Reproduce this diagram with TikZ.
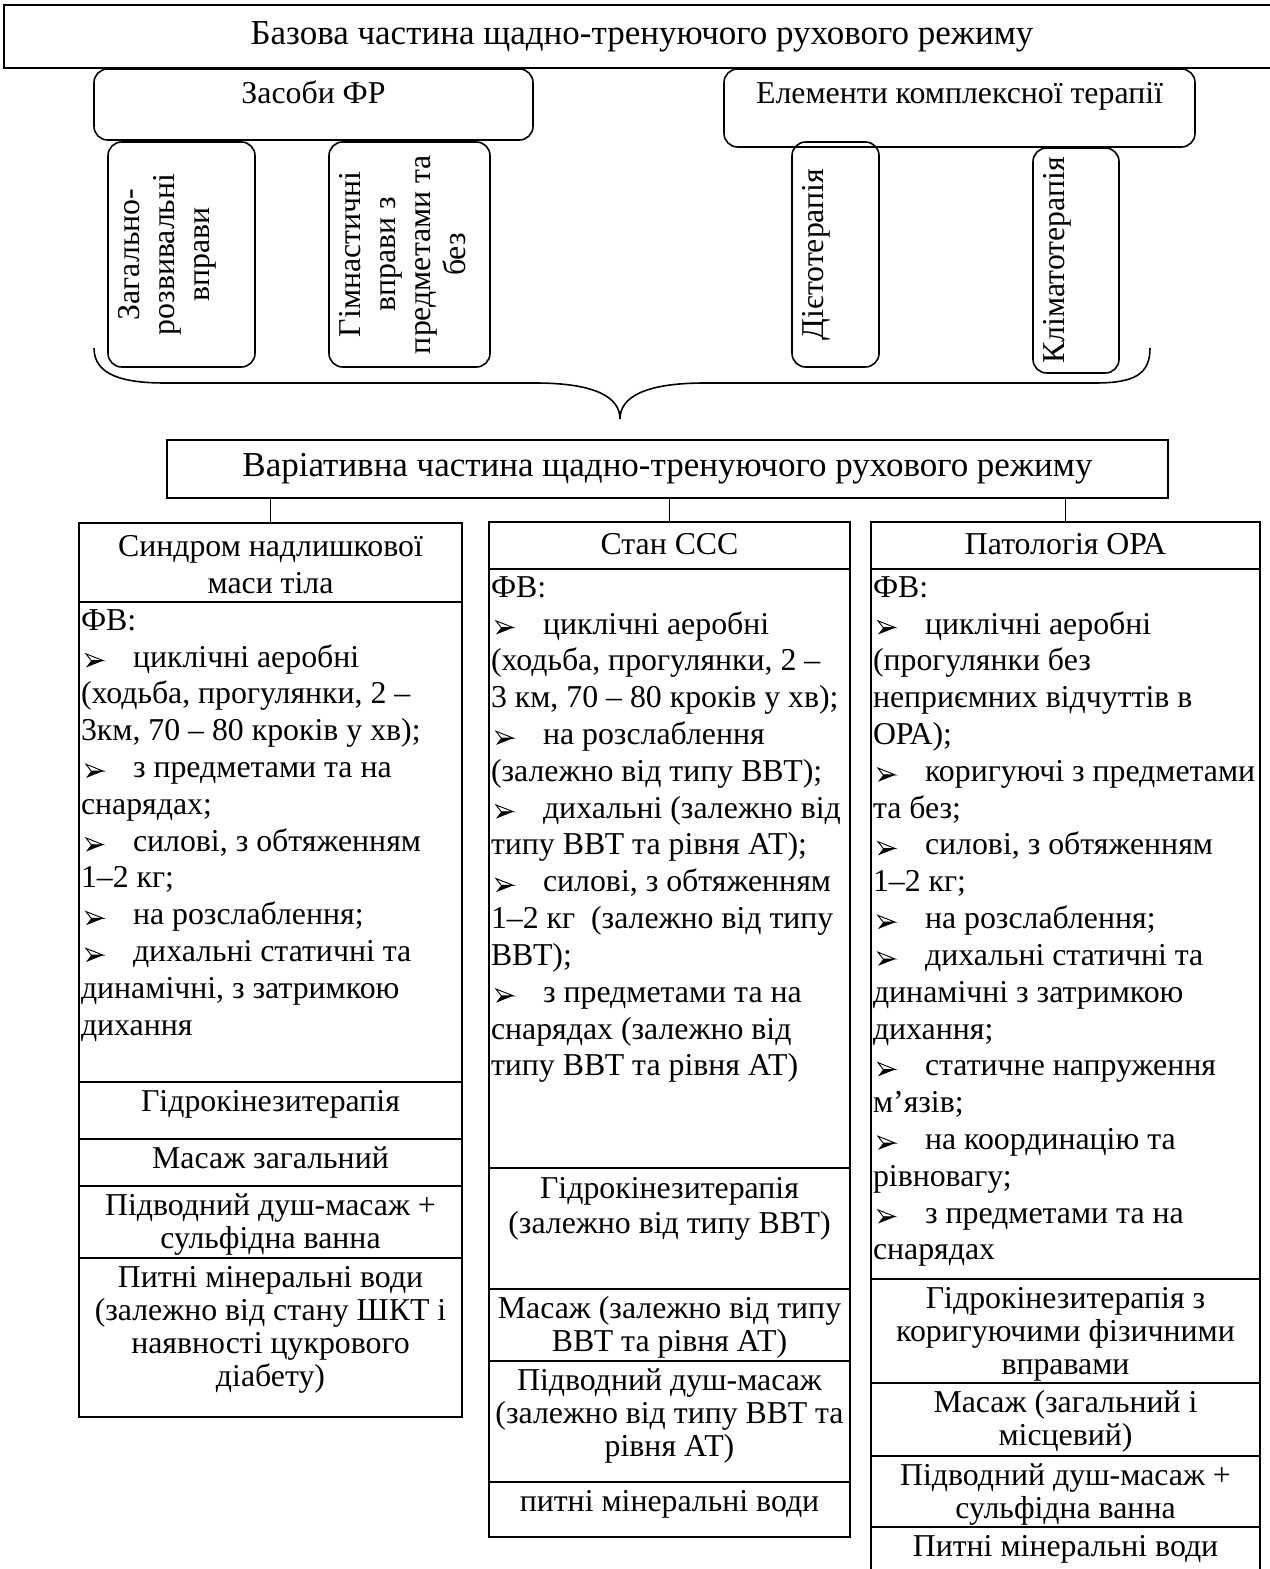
\documentclass[tikz,border=0pt]{standalone}
\usepackage{fontspec}
\setmainfont{Liberation Serif}
\usetikzlibrary{positioning}

\newlength{\Px}
\setlength{\Px}{0.44pt}
\newcommand{\ArrHead}{\tikz[x=1pt, y=1pt, line width=0.4pt, baseline=0pt, line join=miter]{%
  \fill (0,-0.2) -- (7.6,2.8) -- (2.3,2.8) -- cycle;
  \draw (0,5.8) -- (7.6,2.8) -- (2.3,2.8) -- cycle;}}
\newcommand{\Arr}{\makebox[22.9pt][l]{\hspace{2pt}\ArrHead}}
\newcommand{\CText}[4][12.8pt]{\parbox[c][#3\Px][t]{#2\Px}{\fontsize{14}{14.6}\selectfont\centering\rule{0pt}{#1}#4}}
\newcommand{\LText}[3]{\parbox[c][#2\Px][t]{#1\Px}{\raggedright\rule{0pt}{12.4pt}#3}}

\begin{document}
\begin{tikzpicture}[x=\Px, y=-\Px, line width=0.7pt, font=\fontsize{14}{16.2}\selectfont,
  block/.style={rectangle, draw, inner sep=0pt, outer sep=0pt},
  big block/.style={block, align=center, font=\fontsize{15.4}{17}\selectfont},
  round block/.style={block, rounded corners=6pt, inner xsep=5*\Px},
  cell/.style={block, inner xsep=2*\Px},
  line/.style={draw},
  ]
  \useasboundingbox (0,0) rectangle (1269,1569);

  % basic part
  \node[big block, minimum width=1276*\Px, minimum height=63*\Px] (base) at (642,36.5) {Базова частина щадно-тренуючого рухового режиму};
  \node[round block, anchor=north west] (means) at (94,69) {\CText[15pt]{429}{71}{Засоби ФР}};
  \node[round block, anchor=north west] (elements) at (724,69) {\CText[15pt]{461}{78}{Елементи комплексної терапії}};

  \node[round block, rotate=90] (general) at (181.5,254.5) {\CText[13.8pt]{215}{147}{Загально-\\[0.8pt]розвивальні\\[0.8pt]вправи}};
  \node[round block, rotate=90] (gymnastic) at (409.5,254.5) {\CText[13.8pt]{215}{161}{Гімнастичні\\[0.8pt]вправи з\\[0.8pt]предметами та\\[0.8pt]без}};
  \node[round block, rotate=90] (diet) at (835.5,254.5) {\CText[13.8pt]{215}{87}{Дієтотерапія}};
  \node[round block, rotate=90] (climate) at (1076,260.5) {\CText[13.8pt]{215}{86}{Кліматотерапія}};

  \draw (94,348) .. controls (94,376) and (125,383) .. (165,383) -- (535,383)
    .. controls (595,383) and (620,397) .. (620,419)
    .. controls (620,397) and (645,383) .. (705,383) -- (1095,383)
    .. controls (1135,383) and (1150,374) .. (1150,348);

  % variative part
  \node[big block, minimum width=1001*\Px, minimum height=58*\Px] (var) at (667.5,469) {Варіативна частина щадно-тренуючого рухового режиму};

  % overweight
  \node[cell, anchor=north west] (syn) at (79,523) {\CText[14.8pt]{379}{79}{Синдром надлишкової\\[1.6pt]маси тіла}};
  \node[cell, below=0pt of syn] (syn fv) {\LText{379}{480}{ФВ:\\
    \Arr циклічні аеробні\\
    (ходьба, прогулянки, 2 –\\
    3км, 70 – 80 кроків у хв);\\
    \Arr з предметами та на\\
    снарядах;\\
    \Arr силові, з обтяженням\\
    1–2 кг;\\
    \Arr на розслаблення;\\
    \Arr дихальні статичні та\\
    динамічні, з затримкою\\
    дихання}};
  \node[cell, below=0pt of syn fv] (syn hydro) {\CText{379}{57}{Гідрокінезитерапія}};
  \node[cell, below=0pt of syn hydro] (syn massage) {\CText{379}{47}{Масаж загальний}};
  \node[cell, below=0pt of syn massage] (syn shower) {\CText{379}{72}{Підводний душ-масаж +\\сульфідна ванна}};
  \node[cell, below=0pt of syn shower] (syn water) {\CText{379}{159}{Питні мінеральні води\\(залежно від стану ШКТ і\\наявності цукрового\\діабету)}};

  % cardiovascular
  \node[cell, anchor=north west] (ccc) at (489,522) {\CText[14.3pt]{357}{47}{Стан ССС}};
  \node[cell, below=0pt of ccc] (ccc fv) {\LText{357}{599}{ФВ:\\
    \Arr циклічні аеробні\\
    (ходьба, прогулянки, 2 –\\
    3 км, 70 – 80 кроків у хв);\\
    \Arr на розслаблення\\
    (залежно від типу ВВТ);\\
    \Arr дихальні (залежно від\\
    типу ВВТ та рівня АТ);\\
    \Arr силові, з обтяженням\\
    1–2 кг~ (залежно від типу\\
    ВВТ);\\
    \Arr з предметами та на\\
    снарядах (залежно від\\
    типу ВВТ та рівня АТ)}};
  \node[cell, below=0pt of ccc fv] (ccc hydro) {\CText[13.5pt]{357}{121}{Гідрокінезитерапія\\[0.8pt](залежно від типу ВВТ)}};
  \node[cell, below=0pt of ccc hydro] (ccc massage) {\CText{357}{72}{Масаж (залежно від типу\\ВВТ та рівня АТ)}};
  \node[cell, below=0pt of ccc massage] (ccc shower) {\CText{357}{121}{Підводний душ-масаж\\(залежно від типу ВВТ та\\рівня АТ)}};
  \node[cell, below=0pt of ccc shower] (ccc water) {\CText{357}{55}{питні мінеральні води}};

  % musculoskeletal
  \node[cell, anchor=north west] (ora) at (871,522) {\CText[14.3pt]{385}{47}{Патологія ОРА}};
  \node[cell, below=0pt of ora] (ora fv) {\LText{385}{710}{ФВ:\\
    \Arr циклічні аеробні\\
    (прогулянки без\\
    неприємних відчуттів в\\
    ОРА);\\
    \Arr коригуючі з предметами\\
    та без;\\
    \Arr силові, з обтяженням\\
    1–2 кг;\\
    \Arr на розслаблення;\\
    \Arr дихальні статичні та\\
    динамічні з затримкою\\
    дихання;\\
    \Arr статичне напруження\\
    м’язів;\\
    \Arr на координацію та\\
    рівновагу;\\
    \Arr з предметами та на\\
    снарядах}};
  \node[cell, below=0pt of ora fv] (ora hydro) {\CText{385}{104}{Гідрокінезитерапія з\\коригуючими фізичними\\вправами}};
  \node[cell, below=0pt of ora hydro] (ora massage) {\CText{385}{73}{Масаж (загальний і\\місцевий)}};
  \node[cell, below=0pt of ora massage] (ora shower) {\CText{385}{71}{Підводний душ-масаж +\\сульфідна ванна}};
  \node[cell, below=0pt of ora shower] (ora water) {\CText{385}{90}{Питні мінеральні води}};

  % special edges:
  \foreach \col in {syn,ccc,ora}
    \path[line] (var.south -| \col.north) -- (\col.north);
\end{tikzpicture}
\end{document}
